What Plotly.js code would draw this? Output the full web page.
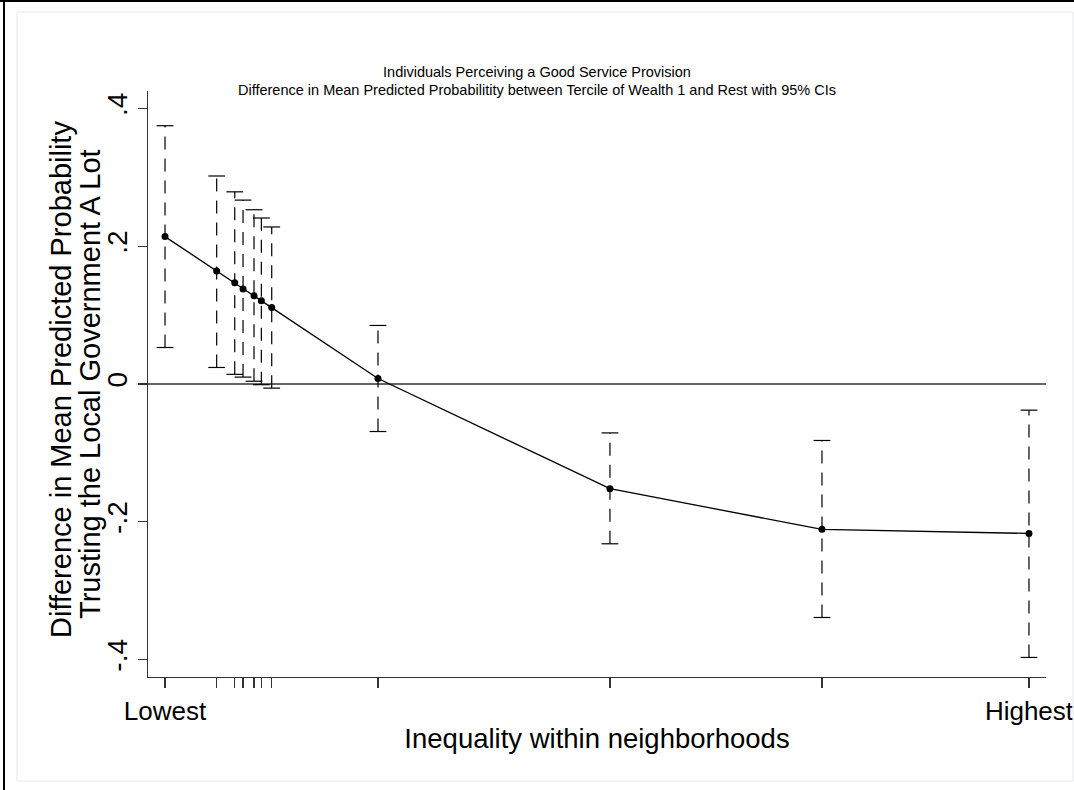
<!DOCTYPE html>
<html>
<head>
<meta charset="utf-8">
<script src="https://cdn.plot.ly/plotly-3.0.1.min.js"></script>
<style>
html,body{margin:0;padding:0;background:#fff;}
#chart{width:1074px;height:790px;}
</style>
</head>
<body>
<div id="chart"></div>
<script>
// Inequality position (0 = Lowest, 1 = Highest)
var inequality = [0, 0.0598, 0.0807, 0.0903, 0.1030, 0.1115, 0.1235, 0.2465, 0.5150, 0.7604, 1.0];
var estimate   = [0.214, 0.164, 0.147, 0.138, 0.128, 0.121, 0.111, 0.008, -0.152, -0.211, -0.217];
var upperCI    = [0.375, 0.302, 0.279, 0.267, 0.253, 0.241, 0.228, 0.085, -0.071, -0.082, -0.038];
var lowerCI    = [0.053, 0.024, 0.014, 0.010, 0.004, -0.001, -0.006, -0.069, -0.232, -0.339, -0.397];
var xTickText  = ["Lowest", "", "", "", "", "", "", "", "", "", "Highest"];
var yTickVals  = [0.4, 0.2, 0, -0.2, -0.4];
var yTickText  = [".4", ".2", "0", "-.2", "-.4"];
var yTitleLines = ["Difference in Mean Predicted Probability", "Trusting the Local Government A Lot"];

var ciX = [], ciY = [];
for (var i = 0; i < inequality.length; i++) {
  ciX.push(inequality[i], inequality[i], null);
  ciY.push(lowerCI[i], upperCI[i], null);
}

var traces = [
  {x: ciX, y: ciY, mode: 'lines', type: 'scatter', hoverinfo: 'skip',
   line: {color: '#000', width: 1.2, dash: '13px,9px'}, showlegend: false},
  {x: inequality.concat(inequality), y: upperCI.concat(lowerCI), mode: 'markers', type: 'scatter',
   marker: {symbol: 'line-ew', size: 12, line: {color: '#000', width: 1.2}}, showlegend: false},
  {x: inequality, y: estimate, mode: 'lines+markers', type: 'scatter',
   line: {color: '#000', width: 1.3}, marker: {color: '#000', size: 7}, showlegend: false}
];

var font = 'Arial, "Liberation Sans", sans-serif';
var PW = 898, PH = 586;
var layout = {
  width: 1074, height: 790,
  paper_bgcolor: '#fff', plot_bgcolor: '#fff',
  margin: {l: 148, r: 28, t: 91, b: 113},
  font: {family: font, color: '#000'},
  title: {text: 'Individuals Perceiving a Good Service Provision<br>Difference in Mean Predicted Probabilitity between Tercile of Wealth 1 and Rest with 95% CIs',
          font: {size: 14.5, family: font, color: '#000'}, x: 0.5, xref: 'container', y: 0.903, yref: 'container', yanchor: 'middle'},
  xaxis: {range: [-0.0197, 1.0197], tickvals: inequality, ticktext: xTickText,
          ticks: 'outside', ticklen: 10, tickcolor: '#333', tickwidth: 1.2,
          showline: true, linecolor: '#333', linewidth: 1.3, showgrid: false, zeroline: false,
          tickfont: {size: 26, family: font}, tickangle: 0,
          title: {text: 'Inequality within neighborhoods', font: {size: 27.5, family: font}, standoff: 4}},
  yaxis: {range: [-0.4254, 0.4254], tickvals: yTickVals, ticktext: yTickText, tickangle: -90,
          ticks: 'outside', ticklen: 9, tickcolor: '#333', tickwidth: 1.2,
          showline: true, linecolor: '#333', linewidth: 1.3, showgrid: false,
          zeroline: true, zerolinecolor: '#666', zerolinewidth: 1.3,
          tickfont: {size: 28, family: font}},
  annotations: [
    {text: yTitleLines[0], xref: 'paper', yref: 'paper', x: (61 - 148) / PW, y: (677 - 380) / PH,
     xanchor: 'center', yanchor: 'middle', textangle: -90, showarrow: false,
     font: {size: 29, family: font, color: '#000'}},
    {text: yTitleLines[1], xref: 'paper', yref: 'paper', x: (90 - 148) / PW, y: (677 - 384) / PH,
     xanchor: 'center', yanchor: 'middle', textangle: -90, showarrow: false,
     font: {size: 29, family: font, color: '#000'}}
  ],
  shapes: [
    {type: 'rect', xref: 'paper', yref: 'paper', x0: -131/PW, x1: 925/PW, y0: -104/PH, y1: 665/PH,
     line: {color: '#e4e8ea', width: 1}},
    {type: 'line', xref: 'paper', yref: 'paper', x0: -144/PW, x1: -144/PW, y0: -113/PH, y1: 677/PH,
     line: {color: '#000', width: 2}},
    {type: 'line', xref: 'paper', yref: 'paper', x0: -148/PW, x1: 926/PW, y0: 676/PH, y1: 676/PH,
     line: {color: '#000', width: 2}}
  ]
};

Plotly.newPlot('chart', traces, layout, {displayModeBar: false, staticPlot: true});
</script>
</body>
</html>
